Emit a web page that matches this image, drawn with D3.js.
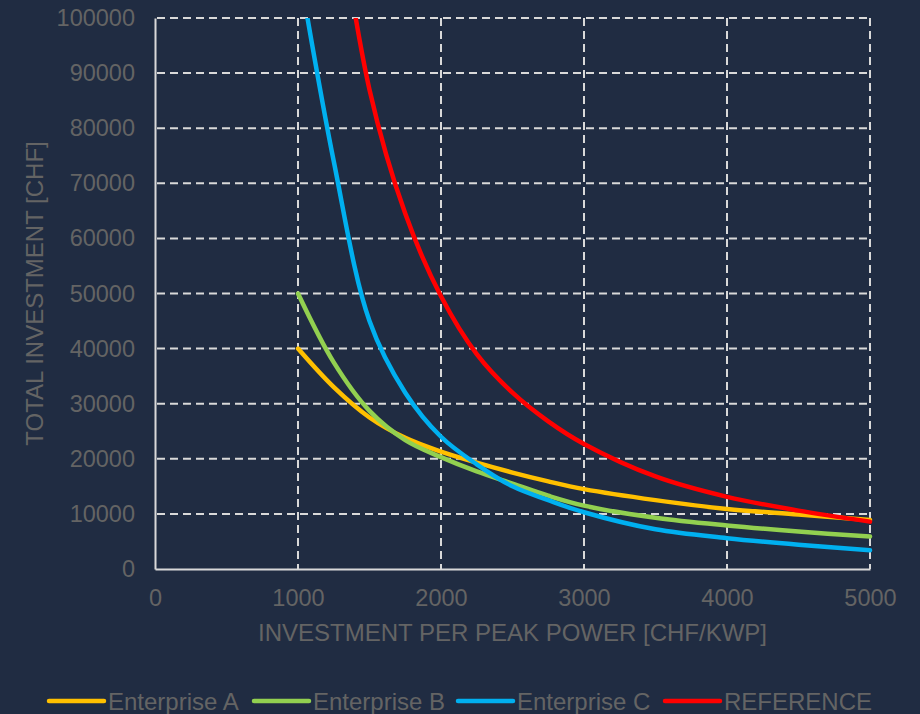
<!DOCTYPE html>
<html>
<head>
<meta charset="utf-8">
<script src="https://cdn.jsdelivr.net/npm/d3@7"></script>
<style>
  html, body { margin: 0; padding: 0; background: #202c42; }
  svg { display: block; }
  text { font-family: "Liberation Sans", Arial, sans-serif; }
</style>
</head>
<body>
<svg id="chart" width="920" height="714"></svg>
<script>
// ---- data ----
const xValues = [1000, 1250, 1500, 1750, 2000, 2250, 2500, 2750, 3000, 3500, 4000, 4500, 5000];
const enterpriseA = [40000, 33000, 27500, 23800, 21300, 19300, 17500, 15900, 14500, 12500, 10900, 9900, 8900];
const enterpriseB = [50000, 37500, 28700, 23400, 20300, 17700, 15500, 13300, 11500, 9300, 7900, 6800, 5900];
const enterpriseC = [110000, 74000, 45000, 32000, 24000, 19000, 15000, 12500, 10300, 7200, 5600, 4400, 3400];
const referenceX = [1250, 1500, 1750, 2000, 2250, 2500, 2750, 3000, 3500, 4000, 4500, 5000];
const reference = [125000, 87000, 64500, 49500, 39000, 32000, 26800, 22700, 16800, 13100, 10600, 8600];
const seriesNames = ["Enterprise A", "Enterprise B", "Enterprise C", "REFERENCE"];
const seriesColors = ["#ffc000", "#92d050", "#00b0f0", "#ff0000"];
const xTicks = [0, 1000, 2000, 3000, 4000, 5000];
const yTicks = [0, 10000, 20000, 30000, 40000, 50000, 60000, 70000, 80000, 90000, 100000];
const xTitle = "INVESTMENT PER PEAK POWER [CHF/KWP]";
const yTitle = "TOTAL INVESTMENT [CHF]";

(function () {
// ---- layout ----
const svg = d3.select("#chart");
const pLeft = 155, pRight = 870, pTop = 18, pBottom = 569;
const textColor = "#646464";
const gridColor = "#d9d9d9";

const x = d3.scaleLinear().domain([0, 5000]).range([pLeft, pRight]);
const y = d3.scaleLinear().domain([0, 100000]).range([pBottom, pTop]);

svg.append("rect").attr("width", 920).attr("height", 714).attr("fill", "#202c42");

svg.append("defs").append("clipPath").attr("id", "plotclip")
  .append("rect").attr("x", pLeft - 3).attr("y", pTop).attr("width", pRight - pLeft + 6).attr("height", pBottom - pTop);

// gridlines
const grid = svg.append("g");
grid.selectAll("line.h").data(yTicks.filter(d => d > 0)).join("line")
  .attr("class", "h")
  .attr("x1", pLeft + 2).attr("x2", pRight)
  .attr("y1", d => y(d)).attr("y2", d => y(d))
  .attr("stroke", gridColor).attr("stroke-width", 2).attr("stroke-dasharray", "8,5");
grid.selectAll("line.v").data(xTicks.filter(d => d > 0)).join("line")
  .attr("class", "v")
  .attr("y1", pTop).attr("y2", pBottom)
  .attr("x1", d => x(d)).attr("x2", d => x(d))
  .attr("stroke", gridColor).attr("stroke-width", 2).attr("stroke-dasharray", "8,5");

// axes
const xAxis = svg.append("g").attr("transform", `translate(0,${pBottom})`)
  .call(d3.axisBottom(x).tickValues(xTicks).tickSize(0).tickPadding(20).tickFormat(d3.format("d")));
const yAxis = svg.append("g").attr("transform", `translate(${pLeft},0)`)
  .call(d3.axisLeft(y).tickValues(yTicks).tickSize(0).tickPadding(20).tickFormat(d3.format("d")));
[xAxis, yAxis].forEach(a => {
  a.select(".domain").attr("stroke", gridColor).attr("stroke-width", 2);
  a.selectAll("text").attr("fill", textColor).attr("font-size", 23.5)
    .attr("font-family", "'Liberation Sans', Arial, sans-serif");
});

// series
const allSeries = [
  { xs: xValues, ys: enterpriseA },
  { xs: xValues, ys: enterpriseB },
  { xs: xValues, ys: enterpriseC },
  { xs: referenceX, ys: reference }
];
const line = d3.line().x(d => x(d[0])).y(d => y(d[1])).curve(d3.curveCatmullRom.alpha(0.5));
const lines = svg.append("g").attr("clip-path", "url(#plotclip)");
allSeries.forEach((s, i) => {
  lines.append("path")
    .datum(s.xs.map((xv, j) => [xv, s.ys[j]]))
    .attr("d", line)
    .attr("fill", "none")
    .attr("stroke", seriesColors[i])
    .attr("stroke-width", 4.5)
    .attr("stroke-linejoin", "round")
    .attr("stroke-linecap", "round");
});

// axis titles
svg.append("text").attr("x", (pLeft + pRight) / 2).attr("y", 641)
  .attr("text-anchor", "middle").attr("fill", textColor).attr("font-size", 24).text(xTitle);
svg.append("text").attr("transform", `translate(43,${(pTop + pBottom) / 2}) rotate(-90)`)
  .attr("text-anchor", "middle").attr("fill", textColor).attr("font-size", 24).text(yTitle);

// legend
const legendX = [49, 254, 458, 665];
const legend = svg.append("g");
seriesNames.forEach((name, i) => {
  const g = legend.append("g").attr("transform", `translate(${legendX[i]},701)`);
  g.append("line").attr("x1", 0).attr("x2", 55).attr("y1", 0).attr("y2", 0)
    .attr("stroke", seriesColors[i]).attr("stroke-width", 4.5).attr("stroke-linecap", "round");
  g.append("text").attr("x", 59).attr("y", 8.5).attr("fill", textColor).attr("font-size", 24).text(name);
});
})();
</script>
</body>
</html>
